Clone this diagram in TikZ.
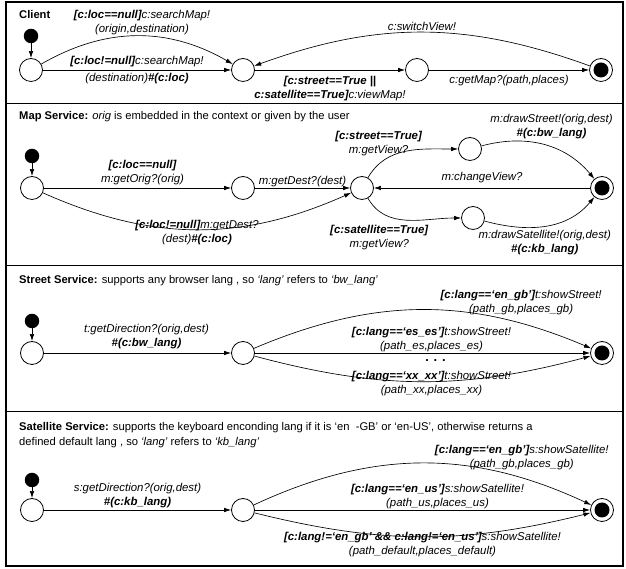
\documentclass[tikz,border=0pt]{standalone}
\usepackage{fontspec}
\setmainfont{Liberation Sans}
\usetikzlibrary{arrows.meta}

\tikzset{
    state/.style={circle,draw,line width=0.8pt,minimum size=23pt,inner sep=0pt},
    init/.style={circle,fill,minimum size=14.5pt,inner sep=0pt},
    final/.style={state,path picture={\fill (path picture bounding box.center) circle (7.5pt);}},
    tr/.style={-{Latex[length=7pt,width=4.5pt]},line width=0.65pt},
    elabel/.style={font=\itshape\fontsize{11.4}{14}\selectfont,align=center,inner sep=1pt},
    dots/.style={font=\bfseries\fontsize{13}{13}\selectfont,inner sep=0pt},
    hdr/.style={inner sep=0pt,font=\fontsize{11.2}{15}\selectfont,align=left}
}

\begin{document}
\begin{tikzpicture}[x=1pt,y=1pt]
        \useasboundingbox (0,0) rectangle (626,569);
        \draw[line width=2.4pt] (6,3) rectangle (623,567);
        \draw[line width=1pt] (6,465) -- (623,465);
        \draw[line width=1pt] (6,303.5) -- (623,303.5);
        \draw[line width=1pt] (6,157) -- (623,157);

        \node[hdr,anchor=west] (hclient) at (19,554) {\textbf{Client}};
        \node[init] (ci) at (31,533) {};
        \node[state] (c1) at (31,499) {};
        \node[state] (c2) at (243,499) {};
        \node[state] (c3) at (417,499) {};
        \node[final] (cf) at (601,499) {};
        \draw[tr] (ci) -- (c1);
        \draw[tr] (c1) to[bend left=30] node[elabel,above,xshift=5pt] (lsearch) {\textbf{[c:loc==null]}c:searchMap!\\(origin,destination)} (c2);
        \draw[tr] (c1) -- node[elabel,above=2pt] (lsearchb) {\textbf{[c:loc!=null]}c:searchMap!} node[elabel,below=2pt] (lsearchc) {(destination)\textbf{\#(c:loc)}} (c2);
        \draw[tr] (c2) -- node[elabel,below=5pt] (lview) {\textbf{[c:street==True ||}\\\textbf{c:satellite==True]}c:viewMap!} (c3);
        \draw[tr] (c3) -- node[elabel,below=4pt] (lgetmap) {c:getMap?(path,places)} (cf);
        \draw[tr] (cf) to[bend right=20] node[elabel,above] (lswitch) {c:switchView!} (c2);

        \node[hdr,anchor=west] (hmap) at (19,452) {\textbf{Map Service:} \textit{orig} is embedded in the context or given by the user};
        \node[init] (mi) at (32,413) {};
        \node[state] (m1) at (32,381) {};
        \node[state] (m2) at (243,381) {};
        \node[state] (m3) at (362,381) {};
        \node[state] (m4) at (470,420) {};
        \node[state] (m5) at (473,351) {};
        \node[final] (mf) at (602,381) {};
        \draw[tr] (mi) -- (m1);
        \draw[tr] (m1) -- node[elabel,above=2pt,xshift=5pt] (lorig) {\textbf{[c:loc==null]}\\m:getOrig?(orig)} (m2);
        \draw[tr] (m2) -- node[elabel,above] (ldest) {m:getDest?(dest)} (m3);
        \draw[tr] (m1) to[bend right=24] node[elabel,yshift=-3.5pt] (ldestb) {\textbf{[c:loc!=null]}m:getDest?\\(dest)\textbf{\#(c:loc)}} (m3);
        \draw[tr] (m3) to[out=60,in=180] node[elabel,pos=.3,above,xshift=-10pt] (lstreet) {\textbf{[c:street==True]}\\m:getView?} (m4);
        \draw[tr] (m3) to[out=-60,in=180] node[elabel,pos=.3,below=7pt,xshift=-10pt] (lsat) {\textbf{[c:satellite==True]}\\m:getView?} (m5);
        \draw[tr] (m4) to[out=15,in=130] node[elabel,above=5pt,xshift=8pt] (ldrawst) {m:drawStreet!(orig,dest)\\\textbf{\#(c:bw\_lang)}} (mf);
        \draw[tr] (m5) to[out=-15,in=-130] node[elabel,below=3pt] (ldrawsat) {m:drawSatellite!(orig,dest)\\\textbf{\#(c:kb\_lang)}} (mf);
        \draw[tr] (mf) -- node[elabel,above=4pt] (lchange) {m:changeView?} (m3);

        \node[hdr,anchor=west] (hstreet) at (19,288) {\textbf{Street Service:} supports any browser lang , so \textit{`lang'} refers to \textit{`bw\_lang'}};
        \node[init] (si) at (32,248) {};
        \node[state] (s1) at (32,216) {};
        \node[state] (s2) at (243,216) {};
        \node[final] (sf) at (602,216) {};
        \draw[tr] (si) -- (s1);
        \draw[tr] (s1) -- node[elabel,above=3pt,xshift=9pt] (ldirst) {t:getDirection?(orig,dest)\\\textbf{\#(c:bw\_lang)}} (s2);
        \draw[tr] (s2) to[bend left=23] node[elabel,pos=.8,above=7pt] (lgb) {\textbf{[c:lang==`en\_gb']}t:showStreet!\\(path\_gb,places\_gb)} (sf);
        \draw[tr] (s2) -- node[elabel,above,xshift=9pt] (les) {\textbf{[c:lang==`es\_es']}t:showStreet!\\(path\_es,places\_es)} node[dots,below=6pt,xshift=13pt] (ldots) {. . .} (sf);
        \draw[tr] (s2) to[bend right=15] node[elabel,yshift=-2pt,xshift=9pt] (lxx) {\textbf{[c:lang==`xx\_xx']}t:showStreet!\\(path\_xx,places\_xx)} (sf);

        \node[hdr,anchor=north west] (hsat) at (19,147) {\textbf{Satellite Service:} supports the keyboard enconding lang if it is `en~~-GB' or `en-US', otherwise returns a\\defined default lang , so \textit{`lang'} refers to \textit{`kb\_lang'}};
        \node[init] (ti) at (32,89) {};
        \node[state] (t1) at (32,59) {};
        \node[state] (t2) at (243,59) {};
        \node[final] (tf) at (602,59) {};
        \draw[tr] (ti) -- (t1);
        \draw[tr] (t1) -- node[elabel,above=1pt] (ldirsat) {s:getDirection?(orig,dest)\\\textbf{\#(c:kb\_lang)}} (t2);
        \draw[tr] (t2) to[bend left=25] node[elabel,pos=.8,above=7pt] (lengb) {\textbf{[c:lang==`en\_gb']}s:showSatellite!\\(path\_gb,places\_gb)} (tf);
        \draw[tr] (t2) -- node[elabel,above,xshift=15pt] (lenus) {\textbf{[c:lang==`en\_us']}s:showSatellite!\\(path\_us,places\_us)} (tf);
        \draw[tr] (t2) to[bend right=14] node[elabel,yshift=-8pt] (ldef) {\textbf{[c:lang!=`en\_gb' \&\& c:lang!=`en\_us']}s:showSatellite!\\(path\_default,places\_default)} (tf);
    \end{tikzpicture}
\end{document}
